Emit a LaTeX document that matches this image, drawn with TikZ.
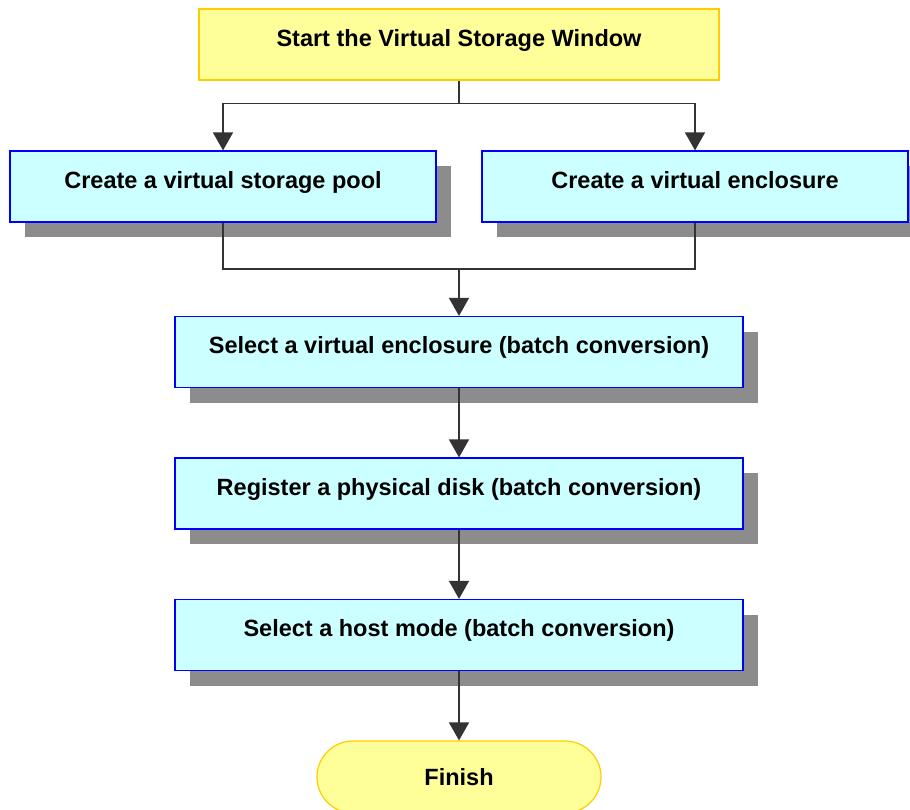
\documentclass[tikz,border=0pt]{standalone}
\usepackage{fontspec}
\setmainfont{Liberation Sans}
\usetikzlibrary{arrows.meta,shadows}
\definecolor{celeste}{HTML}{CCFFFF}
\definecolor{amarillo}{HTML}{FFFF99}
\definecolor{dorado}{HTML}{FFCC00}
\definecolor{linea}{HTML}{333333}

\begin{document}
\begin{tikzpicture}[x=1pt,y=-1pt, % 1 pixel = 1 pt
    texto/.style={font=\bfseries\fontsize{23.5}{28}\selectfont, inner sep=0pt,
        text height=17pt, text depth=14pt},
    caja/.style={texto, draw=blue, line width=1.2pt, fill=celeste,
        minimum height=71pt,
        drop shadow={shadow xshift=15pt, shadow yshift=-15pt, fill=black!45, opacity=1}},
    inicio/.style={texto, draw=dorado, line width=1.2pt, fill=amarillo,
        minimum width=520pt, minimum height=71pt},
    fin/.style={texto, draw=dorado, line width=1.2pt, fill=amarillo,
        minimum width=284pt, minimum height=72pt, rounded corners=36pt,
        text depth=0pt},
    flecha/.style={draw=linea, line width=1.6pt, -{Triangle[length=18pt,width=20pt]}},
    conector/.style={draw=linea, line width=1.6pt}]
    \useasboundingbox (0,0) rectangle (910,809);
    % Inicio
    \node[inicio] (start) at (459,44.5) {Start the Virtual Storage Window};
    % Dos cajas en paralelo
    \node[caja, minimum width=426pt] (pool) at (223,186.5) {Create a virtual storage pool};
    \node[caja, minimum width=426pt] (encl) at (695,186.5) {Create a virtual enclosure};
    % Conversion por lotes
    \node[caja, minimum width=568pt] (select) at (459,352) {Select a virtual enclosure (batch conversion)};
    \node[caja, minimum width=568pt] (register) at (459,493.5) {Register a physical disk (batch conversion)};
    \node[caja, minimum width=568pt] (host) at (459,635) {Select a host mode (batch conversion)};
    % Fin
    \node[fin] (finish) at (459,777) {Finish};

    % Bifurcacion
    \draw[conector] (start.south) -- ++(0,23) coordinate (split);
    \draw[flecha] (split) -| (pool.north);
    \draw[flecha] (split) -| (encl.north);
    % Union
    \coordinate (join) at (459,269);
    \draw[conector] (pool.south) |- (join) -| (encl.south);
    \draw[flecha] (join) -- (select.north);
    % Secuencia
    \draw[flecha] (select.south) -- (register.north);
    \draw[flecha] (register.south) -- (host.north);
    \draw[flecha] (host.south) -- (finish.north);
\end{tikzpicture}
\end{document}
